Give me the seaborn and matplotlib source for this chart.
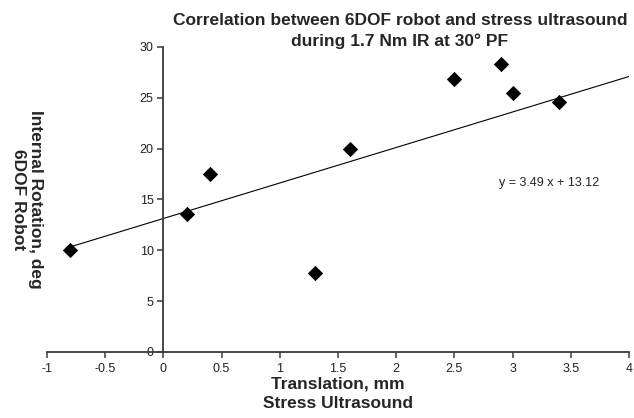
import numpy as np
import pandas as pd
import seaborn as sns
import matplotlib.pyplot as plt

# values
translation_mm = [-0.8, 0.2, 0.4, 1.3, 1.6, 2.5, 2.9, 3.0, 3.4]
rotation_deg = [10.0, 13.6, 17.5, 7.8, 20.0, 26.8, 28.3, 25.5, 24.6]
slope = 3.49
intercept = 13.12
x_ticks = [-1, -0.5, 0, 0.5, 1, 1.5, 2, 2.5, 3, 3.5, 4]
y_ticks = [0, 5, 10, 15, 20, 25, 30]

sns.set_theme(style="white")
plt.rcParams['font.family'] = ['Liberation Sans', 'DejaVu Sans']

df = pd.DataFrame({"translation": translation_mm, "rotation": rotation_deg})
fit_x = np.array([min(translation_mm), x_ticks[-1]])
fit = pd.DataFrame({"x": fit_x, "y": slope * fit_x + intercept})

fig = plt.figure(figsize=(6.34, 4.18), dpi=100)
ax = fig.add_axes([0.074, 0.158, 0.918, 0.73])

sns.lineplot(data=fit, x="x", y="y", color="black", linewidth=0.8, ax=ax)
sns.scatterplot(data=df, x="translation", y="rotation", marker="D", s=52,
                color="black", edgecolor="black", ax=ax, zorder=3)

ax.set_xlim(x_ticks[0], x_ticks[-1])
ax.set_ylim(y_ticks[0], y_ticks[-1])
ax.set_xticks(x_ticks)
ax.set_xticklabels([f"{t:g}" for t in x_ticks])
ax.set_yticks(y_ticks)

for side in ["top", "right"]:
    ax.spines[side].set_visible(False)
ax.spines["left"].set_position(("data", 0))
ax.spines["bottom"].set_position(("data", 0))
for side in ["left", "bottom"]:
    ax.spines[side].set_color("#3a3a3a")
    ax.spines[side].set_linewidth(1.3)
ax.tick_params(axis="both", direction="out", length=4, width=1.1,
               color="#3a3a3a", labelsize=9, labelcolor="#222222", pad=3)
ax.tick_params(axis="x", bottom=True, pad=4)
ax.tick_params(axis="y", left=True)

ax.set_xlabel("Translation, mm\nStress Ultrasound", fontsize=12.5,
              fontweight="bold", labelpad=1, linespacing=1.35)
ax.set_ylabel("Internal Rotation, deg\n6DOF Robot", fontsize=12.5,
              fontweight="bold", rotation=270, linespacing=1.15)
ax.yaxis.set_label_coords(-0.061, 0.5)

ax.text(3.31, 16.6, f"y = {slope:.2f} x + {intercept:.2f}", fontsize=9,
        ha="center", va="center", color="#222222")

fig.text(0.631, 0.952, "Correlation between 6DOF robot and stress ultrasound",
         ha="center", va="center", fontsize=12.5, fontweight="bold")
fig.text(0.631, 0.902, "during 1.7 Nm IR at 30° PF",
         ha="center", va="center", fontsize=12.5, fontweight="bold")

fig.savefig("out.png", dpi=100)
